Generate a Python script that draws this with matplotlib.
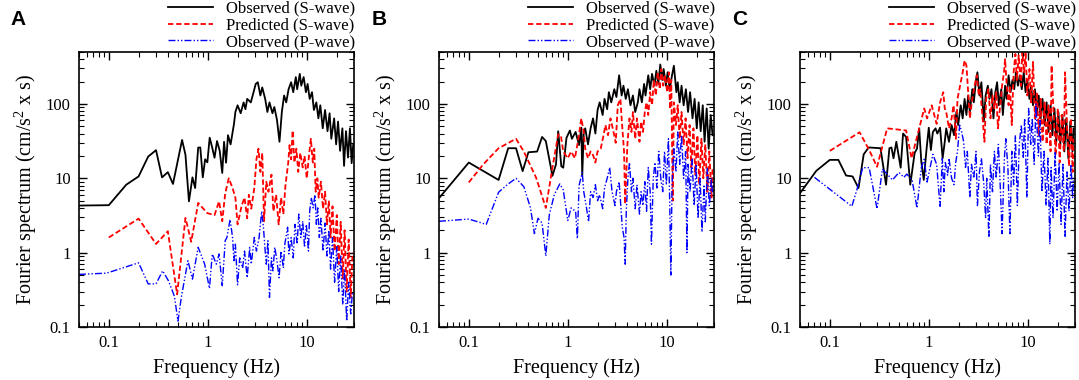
import numpy as np
import matplotlib
matplotlib.use("Agg")
import matplotlib.pyplot as plt
from matplotlib import ticker

plt.rcParams['font.family'] = ['Liberation Serif', 'DejaVu Serif']
plt.rcParams['mathtext.fontset'] = 'custom'
plt.rcParams['mathtext.rm'] = 'Liberation Serif'
plt.rcParams['mathtext.it'] = 'Liberation Serif'

# ---- panel A ----
a_obs_f = [0.05, 0.1, 0.15, 0.2, 0.25, 0.3, 0.345, 0.395, 0.445, 0.55, 0.595, 0.645, 0.7, 0.745,
           0.8, 0.84, 0.89, 0.94, 0.99, 1.045, 1.11, 1.17, 1.24, 1.32, 1.4, 1.46, 1.53, 1.6, 1.7,
           1.84, 1.9, 2.0, 2.15, 2.3, 2.4, 2.5, 2.72, 2.9, 3.05, 3.2, 3.4, 3.55, 3.8, 4.0, 4.2,
           4.5, 4.7, 5.0, 5.3, 5.6, 5.9, 6.2, 6.55, 6.95, 7.3, 7.75, 8.0, 8.5, 8.8, 9.3, 9.8,
           10.2, 10.7, 11.3, 11.8, 12.5, 13.1, 13.7, 14.5, 15.3, 16.2, 17.0, 17.7, 18.9, 19.8,
           20.7, 21.7, 22.9, 23.8, 24.9, 26.1, 27.3, 28.4, 29.5]
a_obs_amp = [4.3, 4.35, 8.2, 10.6, 19.6, 23.9, 10.3, 12.1, 8.4, 32.8, 20.7, 4.9, 10.3, 7.4,
             25.9, 26, 10.3, 18, 16.4, 35.2, 25.7, 18.9, 31.7, 23.4, 11.8, 31, 16.2, 38, 28.6,
             54, 78, 96, 75, 105, 85, 117, 105, 144, 186, 196, 130, 167, 117, 78, 105,
             75, 91, 61, 31, 78, 130, 105, 158, 196, 144, 230, 158, 254, 176, 230, 144,
             186, 117, 144, 83, 105, 64, 96, 47, 83, 43, 75, 34, 64, 28.6,
             58, 23.4, 47, 14.7, 43, 19, 47, 16, 29]
a_pred_f = [0.1, 0.2, 0.3, 0.395, 0.49, 0.595, 0.68, 0.8, 0.99, 1.17, 1.3, 1.4, 1.5, 1.63, 1.78,
            1.9, 2.0, 2.2, 2.35, 2.5, 2.6, 2.75, 2.95, 3.1, 3.25, 3.4, 3.55, 3.7, 3.9, 4.1, 4.4,
            4.6, 4.9, 5.2, 5.5, 5.8, 6.1, 6.5, 6.7, 6.95, 7.2, 7.5, 7.85, 8.2, 8.6, 9.1, 9.5,
            10.0, 10.6, 11.0, 11.5, 11.9, 12.3, 12.8, 13.2, 13.9, 14.6, 15.3, 16.0, 16.7, 17.4,
            18.2, 19.1, 20.1, 21.0, 22.0, 23.1, 24.1, 25.3, 26.5, 27.8, 29.0]
a_pred_amp = [1.6, 2.87, 1.31, 1.94, 0.275, 2.93, 1.4, 4.66, 3.4, 3.2, 4.9, 2.65, 6.3, 10, 7.4,
              5.5, 2.4, 4.3, 5.5, 2.9, 6, 3.9, 7.4, 18, 25, 12.2, 22, 2.65, 9, 6.6, 11.2,
              3.6, 6, 2.4, 5.5, 3.3, 8.2, 16.3, 28, 18, 44, 16.3, 25, 12.2, 22, 14, 20,
              10, 22, 34, 16.3, 25, 6.6, 10, 5.5, 9, 3.9, 6.6, 2.4, 5, 1.6,
              4.2, 1.05, 3.2, 0.7, 2.6, 0.45, 2.0, 0.3, 1.5, 0.25, 1.0]
a_p_f = [0.05, 0.095, 0.2, 0.25, 0.3, 0.35, 0.4, 0.46, 0.5, 0.54, 0.63, 0.7, 0.8, 0.93, 1.04,
         1.11, 1.22, 1.3, 1.4, 1.5, 1.56, 1.68, 1.78, 1.84, 1.9, 2.0, 2.1, 2.25, 2.35, 2.5,
         2.65, 2.75, 2.95, 3.1, 3.3, 3.5, 3.65, 3.8, 3.9, 4.05, 4.2, 4.4, 4.55, 4.75, 5.0,
         5.25, 5.5, 5.8, 6.0, 6.4, 6.6, 6.95, 7.3, 7.6, 8.0, 8.3, 8.7, 9.1, 9.5, 9.9,
         10.4, 10.7, 11.1, 11.6, 12.1, 12.5, 12.9, 13.4, 13.9, 14.6, 15.3, 16.0, 16.7, 17.4, 18.2,
         19.1, 20.1, 21.0, 22.0, 23.1, 24.1, 25.3, 26.5, 27.8, 29.0]
a_p_amp = [0.51, 0.53, 0.73, 0.38, 0.38, 0.57, 0.42, 0.26, 0.12, 0.25, 0.78, 0.44, 1.18, 0.7, 0.33,
           0.96, 0.7, 0.96, 0.36, 1.45, 1.6, 2.8, 1.6, 0.78, 1.3, 0.37, 0.85, 0.62, 1.05, 0.46,
           1.18, 0.7, 1.6, 1.05, 1.6, 3.6, 2.2, 1.05, 0.7, 1.45, 0.25, 0.85, 0.57, 1.18, 0.78,
           0.46, 1.05, 0.62, 1.3, 2.2, 0.96, 1.6, 0.85, 2.4, 1.3, 3.3, 1.6, 2.65, 1.18, 2.4,
           1.05, 3.6, 5.5, 4.0, 6.0, 2.4, 4.0, 1.6, 2.9, 1.05, 2.5, 0.9, 2.0, 0.6, 1.6,
           0.4, 1.2, 0.3, 0.9, 0.2, 0.6, 0.12, 0.4, 0.15, 0.3]

# ---- panel B ----
b_obs_f = [0.05, 0.1, 0.2, 0.25, 0.3, 0.35, 0.4, 0.49, 0.55, 0.6, 0.7, 0.76, 0.8, 0.86, 0.9,
           0.97, 1.05, 1.1, 1.2, 1.3, 1.37, 1.4, 1.45, 1.5, 1.6, 1.7, 1.8, 1.9, 2.0, 2.1,
           2.25, 2.35, 2.5, 2.6, 2.75, 2.95, 3.1, 3.3, 3.5, 3.65, 3.85, 4.05, 4.3, 4.55, 4.8,
           5.1, 5.3, 5.6, 5.9, 6.1, 6.5, 6.8, 7.1, 7.5, 7.85, 8.2, 8.6, 9.0, 9.3, 9.8,
           10.2, 10.7, 11.3, 11.8, 12.5, 12.9, 13.5, 14.1, 14.8, 15.6, 16.4, 17.2, 18.2, 19.1, 20.1,
           21.0, 22.0, 23.1, 24.1, 25.3, 26.5, 27.8, 29.0]
b_obs_amp = [5.4, 16.3, 9.5, 25.4, 25.4, 12.5, 22.4, 22.9, 36, 31.7, 10.8, 15.4, 43, 14.5, 13.9,
             35, 44, 34, 42, 28, 48, 11, 42, 47, 28.6, 47, 64, 40, 83, 105,
             71, 117, 85, 144, 105, 158, 124, 243, 130, 176, 117, 158, 96, 130, 78,
             105, 158, 105, 186, 130, 243, 158, 254, 176, 280, 186, 340, 210, 295, 176,
             267, 158, 243, 327, 144, 196, 105, 176, 96, 158, 78, 144, 64, 117, 47,
             105, 43, 96, 31, 87, 25, 71, 38]
b_pred_f = [0.1, 0.14, 0.2, 0.3, 0.36, 0.48, 0.6, 0.7, 0.8, 0.85, 0.9, 1.0, 1.08, 1.18, 1.27,
            1.37, 1.45, 1.5, 1.6, 1.7, 1.8, 1.9, 2.0, 2.15, 2.3, 2.4, 2.55, 2.7, 2.9, 3.05,
            3.2, 3.4, 3.5, 3.7, 3.8, 4.0, 4.2, 4.4, 4.55, 4.8, 5.0, 5.3, 5.5, 5.75, 6.0,
            6.25, 6.5, 6.8, 7.1, 7.4, 7.75, 8.1, 8.5, 8.8, 9.2, 9.6, 10.1, 10.5, 10.8, 11.1,
            11.5, 11.8, 12.4, 12.9, 13.5, 14.1, 14.8, 15.5, 16.2, 17.0, 17.7, 18.6, 19.4, 20.4, 21.3,
            22.4, 23.4, 24.5, 25.7, 26.9, 28.3, 29.0]
b_pred_amp = [8.8, 15.4, 25.4, 34, 22.9, 10.1, 4.0, 13.9, 39, 38, 22.9, 18.6, 22.9, 18.6, 32,
              64, 42, 25, 18.6, 23, 20.5, 16.3, 23, 25, 38, 52, 38, 64, 42, 30,
              96, 117, 64, 23, 4.5, 28.6, 64, 42, 78, 34, 64, 31, 58, 42, 78,
              105, 71, 144, 96, 210, 130, 267, 158, 295, 176, 243, 144, 267, 85, 210,
              5, 105, 52, 96, 34, 78, 28.6, 64, 18.6, 52, 14, 47, 11.2, 38, 8.2,
              34, 10, 28.6, 6.6, 23, 5.5, 14]
b_p_f = [0.05, 0.1, 0.15, 0.2, 0.25, 0.3, 0.36, 0.42, 0.46, 0.5, 0.55, 0.6, 0.65, 0.73, 0.83,
         0.9, 1.0, 1.08, 1.2, 1.25, 1.3, 1.4, 1.45, 1.55, 1.62, 1.7, 1.8, 1.9, 2.0, 2.1,
         2.25, 2.35, 2.5, 2.65, 2.8, 3.0, 3.1, 3.3, 3.45, 3.55, 3.7, 3.8, 3.9, 4.05, 4.2,
         4.4, 4.55, 4.8, 5.0, 5.3, 5.5, 5.75, 6.0, 6.25, 6.5, 6.8, 7.0, 7.3, 7.6, 7.95,
         8.3, 8.7, 9.1, 9.5, 9.9, 10.4, 10.7, 11.0, 11.3, 11.8, 12.4, 12.9, 13.5, 14.1, 14.8,
         15.5, 16.0, 16.4, 17.2, 18.0, 18.9, 19.8, 20.7, 21.7, 22.7, 23.8, 24.5, 25.7, 26.9, 28.3,
         29.0]
b_p_amp = [2.64, 2.83, 2.4, 6.5, 8.4, 10, 7.7, 4, 1.8, 2.9, 2.5, 0.9, 3.2, 6, 8.4,
           7, 2.7, 4, 3.6, 1.55, 8, 12, 6.6, 3.9, 2.6, 6.6, 5.5, 8.2, 5, 6,
           3.9, 7.4, 10, 14, 6.6, 4.3, 6.6, 9, 3.9, 2.2, 1.6, 0.7, 3.6, 10, 16.3,
           6.6, 10, 3.9, 8.2, 3.3, 6.6, 4.3, 9, 3.6, 14, 6.6, 1.3, 10, 16.3, 7.4,
           23, 10, 6.6, 23, 8.2, 34, 5, 0.5, 8.2, 25, 12.2, 42, 15.4, 38, 10,
           23, 1.0, 15.4, 6.6, 18.6, 4.3, 15.4, 2.9, 10, 1.9, 8.2, 2.6, 14, 4.3, 10,
           6]

# ---- panel C ----
c_obs_f = [0.05, 0.073, 0.1, 0.122, 0.146, 0.17, 0.195, 0.22, 0.247, 0.325, 0.37, 0.4, 0.42, 0.44,
           0.47, 0.52, 0.55, 0.59, 0.65, 0.72, 0.76, 0.8, 0.84, 0.89, 0.95, 1.0, 1.05, 1.1, 1.17,
           1.22, 1.3, 1.38, 1.45, 1.5, 1.6, 1.7, 1.8, 1.9, 1.98, 2.1, 2.2, 2.3, 2.4, 2.5, 2.6,
           2.75, 2.85, 3.0, 3.1, 3.25, 3.4, 3.6, 3.75, 3.95, 4.1, 4.3, 4.5, 4.7, 4.9, 5.1,
           5.4, 5.6, 5.9, 6.1, 6.4, 6.7, 7.0, 7.3, 7.6, 7.95, 8.3, 8.7, 9.1, 9.5, 9.9,
           10.4, 10.8, 11.3, 11.8, 12.4, 12.9, 13.5, 14.1, 14.8, 15.5, 16.2, 17.0, 17.7, 18.6, 19.4,
           20.4, 21.3, 22.4, 23.4, 24.5, 25.7, 26.9, 28.3, 29.0]
c_obs_amp = [6.3, 12.6, 17.7, 17.7, 10.9, 10.6, 7.4, 21, 26, 25.4, 8.2, 25.4, 26, 18.6,
             31, 13.9, 40, 36, 8.2, 22, 25, 47, 16.8, 9.5, 25, 48, 24, 42, 47,
             40, 48, 18.6, 31, 47, 31, 52, 38, 78, 52, 96, 64, 117, 71, 130, 78,
             158, 105, 210, 267, 130, 196, 58, 130, 176, 117, 158, 64, 144, 196, 96,
             158, 71, 176, 117, 243, 144, 210, 158, 267, 176, 243, 158, 267, 144, 210,
             117, 176, 96, 158, 78, 130, 64, 117, 52, 105, 42, 96, 38, 87, 31,
             78, 28.6, 71, 23, 64, 18.6, 58, 23, 47]
c_pred_f = [0.1, 0.2, 0.25, 0.3, 0.38, 0.59, 0.67, 0.8, 0.9, 0.96, 1.07, 1.2, 1.3, 1.4, 1.45,
            1.5, 1.6, 1.7, 1.78, 1.88, 1.95, 2.07, 2.2, 2.3, 2.4, 2.5, 2.6, 2.75, 2.9, 3.05,
            3.2, 3.3, 3.5, 3.65, 3.8, 4.0, 4.2, 4.4, 4.6, 4.8, 5.0, 5.3, 5.5, 5.75, 5.9,
            6.1, 6.4, 6.6, 6.9, 7.2, 7.5, 7.75, 8.1, 8.5, 8.8, 9.2, 9.5, 9.9, 10.4, 10.8,
            11.3, 11.8, 12.4, 12.9, 13.5, 14.1, 14.8, 15.5, 16.2, 17.0, 17.4, 18.2, 19.1, 20.1, 21.0,
            22.0, 23.1, 23.8, 24.9, 26.1, 27.3, 28.4, 29.0]
c_pred_amp = [23.4, 41.6, 24, 14.3, 47, 44, 18.6, 47, 87, 64, 96, 54, 105, 144, 87,
              78, 47, 64, 96, 34, 117, 176, 267, 385, 330, 144, 64, 117, 176, 243,
              130, 158, 64, 31, 117, 158, 64, 130, 87, 144, 47, 105, 176, 267, 400,
              196, 96, 176, 52, 267, 470, 210, 450, 176, 500, 267, 520, 130, 295, 105,
              368, 64, 144, 38, 117, 31, 105, 28.6, 96, 23, 330, 78, 20.5, 87, 16.3,
              71, 23, 267, 52, 14.7, 64, 12.2, 34]
c_p_f = [0.07, 0.167, 0.19, 0.215, 0.25, 0.3, 0.34, 0.38, 0.43, 0.5, 0.56, 0.6, 0.68, 0.76, 0.84,
         0.9, 0.96, 1.1, 1.2, 1.3, 1.37, 1.42, 1.47, 1.55, 1.6, 1.7, 1.8, 1.87, 1.95, 2.05,
         2.15, 2.25, 2.35, 2.45, 2.6, 2.7, 2.85, 3.0, 3.1, 3.25, 3.4, 3.6, 3.75, 3.85, 4.05,
         4.2, 4.4, 4.6, 4.8, 5.05, 5.3, 5.5, 5.8, 6.0, 6.3, 6.6, 6.9, 7.2, 7.5, 7.85,
         8.2, 8.6, 9.0, 9.3, 9.8, 10.2, 10.7, 11.1, 11.6, 12.1, 12.8, 13.3, 13.9, 14.6, 15.3,
         16.0, 16.7, 17.2, 18.0, 18.9, 19.8, 20.7, 21.7, 22.7, 23.8, 24.9, 26.1, 27.3, 28.4, 29.0]
c_p_amp = [10.3, 4.2, 7.4, 13.9, 13.9, 3.9, 13.3, 11.4, 9.5, 12, 10.3, 11.4, 9.3, 4, 13.9,
           18, 8.9, 21, 15.4, 4.2, 18.6, 6.6, 16.3, 11, 18.6, 10, 8.2, 16.3, 23, 52,
           42, 31, 14, 23, 5.5, 15.4, 10, 23, 4.3, 12.2, 18.6, 8.2, 2.9, 10, 1.6,
           15.4, 6.6, 23, 10, 28.6, 6.6, 1.8, 18.6, 34, 14, 1.8, 23, 8.2, 38, 4.3,
           28.6, 52, 18.6, 64, 5.5, 87, 28.6, 64, 15.4, 100, 20, 60, 6.6, 23, 4.3,
           18.6, 1.3, 14, 2.9, 23, 3.6, 16.3, 2.4, 15.4, 1.6, 12.2, 3.6, 15.4, 5.5, 10]

panels = [
    ('A', a_obs_f, a_obs_amp, a_pred_f, a_pred_amp, a_p_f, a_p_amp),
    ('B', b_obs_f, b_obs_amp, b_pred_f, b_pred_amp, b_p_f, b_p_amp),
    ('C', c_obs_f, c_obs_amp, c_pred_f, c_pred_amp, c_p_f, c_p_amp),
]

fig = plt.figure(figsize=(10.79, 3.8), dpi=100)
lefts = [79, 439, 800]
letter_x = [10, 372, 732]

for i, (name, of, oa, pf, pa, qf, qa) in enumerate(panels):
    ax = fig.add_axes([lefts[i] / 1079, 53 / 380, 275 / 1079, 275 / 380])
    ax.plot(of, oa, color='black', lw=1.3, label='Observed (S-wave)')
    ax.plot(pf, pa, color='#ff0000', lw=1.3, dashes=(3, 1.5), label='Predicted (S-wave)')
    ax.plot(qf, qa, color='#0000ff', lw=1.0, dashes=(5, 1.5, 1, 1.5, 1, 1.5),
            label='Observed (P-wave)')
    ax.set_xscale('log')
    ax.set_yscale('log')
    ax.set_xlim(0.05, 30)
    ax.set_ylim(0.1, 500)
    fmt = ticker.FuncFormatter(lambda v, p: f'{v:g}')
    ax.xaxis.set_major_locator(ticker.FixedLocator([0.1, 1, 10]))
    ax.yaxis.set_major_locator(ticker.FixedLocator([0.1, 1, 10, 100]))
    ax.xaxis.set_major_formatter(fmt)
    ax.yaxis.set_major_formatter(fmt)
    ax.xaxis.set_minor_locator(ticker.LogLocator(base=10, subs=np.arange(2, 10)))
    ax.yaxis.set_minor_locator(ticker.LogLocator(base=10, subs=np.arange(2, 10)))
    ax.xaxis.set_minor_formatter(ticker.NullFormatter())
    ax.yaxis.set_minor_formatter(ticker.NullFormatter())
    ax.tick_params(which='both', direction='in', top=True, right=True, labelsize=12)
    ax.tick_params(which='major', length=6, width=1.0, pad=6)
    ax.tick_params(which='minor', length=3.5, width=0.8)
    for s in ax.spines.values():
        s.set_linewidth(1.2)
    ax.set_xlabel('Frequency (Hz)', fontsize=14.5, labelpad=5)
    ax.set_ylabel('Fourier spectrum (cm/s$^2$ x s)', fontsize=14.5, labelpad=5)
    ax.legend(loc='lower right', bbox_to_anchor=(1.01, 1.0), frameon=False, fontsize=12,
              handlelength=2.7, labelspacing=0.05, borderpad=0, borderaxespad=0.1,
              handletextpad=0.8)
    fig.text(letter_x[i] / 1079, 1 - 25 / 380, name, family=['Liberation Sans', 'DejaVu Sans'],
             fontweight='bold', fontsize=15)

fig.savefig('out.png', dpi=100)
